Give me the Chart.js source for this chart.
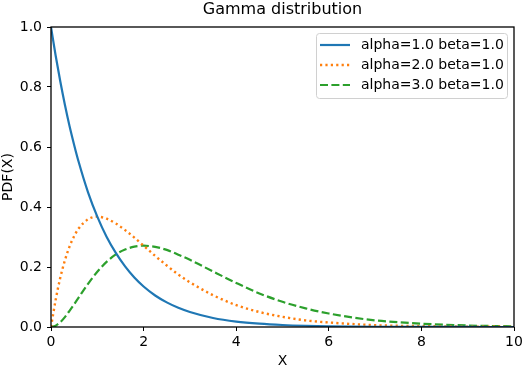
<!DOCTYPE html>
<html>
<head>
<meta charset="utf-8">
<script src="https://cdn.jsdelivr.net/npm/chart.js@4.4.0/dist/chart.umd.min.js"></script>
<style>
  html, body { margin: 0; padding: 0; background: #fff; }
  #wrap { width: 522px; height: 367px; }
</style>
</head>
<body>
<div id="wrap"><canvas id="gammaChart" width="522" height="367"></canvas></div>
<script>
// values
var xValues = [0, 0.1, 0.2, 0.3, 0.4, 0.5, 0.6, 0.8, 1.0, 1.2, 1.4, 1.6, 1.8, 2.0, 2.25, 2.5, 2.75, 3.0, 3.5, 4.0, 4.5, 5.0, 5.5, 6.0, 6.5, 7.0, 7.5, 8.0, 9.0, 10.0];
var alpha1Values = [1.0, 0.905, 0.819, 0.741, 0.670, 0.607, 0.549, 0.449, 0.368, 0.301, 0.247, 0.202, 0.165, 0.135, 0.105, 0.082, 0.064, 0.050, 0.030, 0.018, 0.011, 0.0067, 0.0041, 0.0025, 0.0015, 0.0009, 0.0006, 0.0003, 0.0001, 0.0000];
var alpha2Values = [0, 0.090, 0.164, 0.222, 0.268, 0.303, 0.329, 0.359, 0.368, 0.361, 0.345, 0.323, 0.298, 0.271, 0.237, 0.205, 0.175, 0.149, 0.106, 0.073, 0.050, 0.034, 0.022, 0.015, 0.010, 0.006, 0.004, 0.003, 0.001, 0.0005];
var alpha3Values = [0, 0.0045, 0.016, 0.033, 0.054, 0.076, 0.099, 0.144, 0.184, 0.217, 0.242, 0.258, 0.268, 0.271, 0.267, 0.257, 0.241, 0.224, 0.185, 0.147, 0.112, 0.084, 0.062, 0.045, 0.032, 0.022, 0.016, 0.011, 0.005, 0.0023];
var seriesLabels = ['alpha=1.0 beta=1.0', 'alpha=2.0 beta=1.0', 'alpha=3.0 beta=1.0'];
var xTicks = [0, 2, 4, 6, 8, 10];
var yTicks = [0.0, 0.2, 0.4, 0.6, 0.8, 1.0];

var FONT = "'DejaVu Sans', sans-serif";

function toPoints(ys) {
    return xValues.map(function(x, i) { return {x: x, y: ys[i]}; });
}

// frame round the plot, drawn above the lines like matplotlib spines
var framePlugin = {
    id: 'frame',
    afterDatasetsDraw: function(chart) {
        var a = chart.chartArea;
        var ctx = chart.ctx;
        ctx.save();
        ctx.strokeStyle = '#000';
        ctx.lineWidth = 1.3;
        ctx.strokeRect(a.left, a.top, a.right - a.left, a.bottom - a.top);
        ctx.restore();
    }
};

// legend in the upper right corner, inside the axes
var legendPlugin = {
    id: 'insideLegend',
    afterDraw: function(chart) {
        var ctx = chart.ctx;
        var a = chart.chartArea;
        var boxRight = a.right - 7, boxTop = a.top + 6;
        var boxW = 191, boxH = 65;
        var boxLeft = boxRight - boxW;
        ctx.save();
        ctx.fillStyle = 'rgba(255,255,255,0.8)';
        ctx.strokeStyle = '#d0d0d0';
        ctx.lineWidth = 1;
        ctx.beginPath();
        ctx.roundRect(boxLeft + 0.5, boxTop + 0.5, boxW, boxH, 3);
        ctx.fill();
        ctx.stroke();

        chart.data.datasets.forEach(function(ds, i) {
            var y = boxTop + 12 + i * 20;
            ctx.strokeStyle = ds.borderColor;
            ctx.lineWidth = ds.borderWidth;
            ctx.setLineDash(ds.borderDash || []);
            ctx.beginPath();
            ctx.moveTo(boxLeft + 4, y);
            ctx.lineTo(boxLeft + 34, y);
            ctx.stroke();
            ctx.setLineDash([]);
            ctx.fillStyle = '#000';
            ctx.font = '14px ' + FONT;
            ctx.textBaseline = 'middle';
            ctx.textAlign = 'left';
            ctx.fillText(ds.label, boxLeft + 45, y);
        });
        ctx.restore();
    }
};

var ctx = document.getElementById('gammaChart').getContext('2d');
var myChart = new Chart(ctx, {
    type: 'line',
    data: {
        datasets: [{
            label: seriesLabels[0],
            data: toPoints(alpha1Values),
            borderColor: '#1f77b4',
            borderWidth: 2.2,
            pointRadius: 0,
            cubicInterpolationMode: 'monotone'
        }, {
            label: seriesLabels[1],
            data: toPoints(alpha2Values),
            borderColor: '#ff7f0e',
            borderWidth: 2.4,
            borderDash: [2.2, 3.2],
            pointRadius: 0,
            cubicInterpolationMode: 'monotone'
        }, {
            label: seriesLabels[2],
            data: toPoints(alpha3Values),
            borderColor: '#2ca02c',
            borderWidth: 2.2,
            borderDash: [8, 3.4],
            pointRadius: 0,
            cubicInterpolationMode: 'monotone'
        }]
    },
    options: {
        responsive: false,
        animation: false,
        devicePixelRatio: 1,
        layout: { padding: { top: 27, right: 8, left: 0, bottom: 0 } },
        plugins: {
            legend: { display: false },
            tooltip: { enabled: false },
            title: { display: false }
        },
        scales: {
            x: {
                type: 'linear',
                min: 0,
                max: 10,
                afterFit: function(scale) {
                    scale.height = 40;
                    scale.paddingLeft = 0;
                    scale.paddingRight = 0;
                },
                afterBuildTicks: function(scale) {
                    scale.ticks = xTicks.map(function(v) { return {value: v}; });
                },
                border: { display: false },
                grid: { display: true, drawOnChartArea: false, drawTicks: true, tickLength: 4, color: '#000', lineWidth: 1 },
                ticks: {
                    color: '#000',
                    padding: 3,
                    maxRotation: 0,
                    font: { family: FONT, size: 14 },
                    callback: function(v) { return String(v); }
                },
                title: {
                    display: true,
                    text: 'X',
                    color: '#000',
                    font: { family: FONT, size: 14 },
                    padding: { top: 4, bottom: -3 }
                }
            },
            y: {
                min: 0,
                max: 1.0,
                afterFit: function(scale) {
                    scale.width = 51;
                    scale.paddingTop = 0;
                    scale.paddingBottom = 0;
                },
                afterBuildTicks: function(scale) {
                    scale.ticks = yTicks.map(function(v) { return {value: v}; });
                },
                border: { display: false },
                grid: { display: true, drawOnChartArea: false, drawTicks: true, tickLength: 4, color: '#000', lineWidth: 1 },
                ticks: {
                    color: '#000',
                    padding: 5,
                    font: { family: FONT, size: 14 },
                    callback: function(v) { return v.toFixed(1); }
                },
                title: {
                    display: true,
                    text: 'PDF(X)',
                    color: '#000',
                    font: { family: FONT, size: 14 },
                    padding: { top: 0, bottom: 2 }
                }
            }
        }
    },
    plugins: [framePlugin, legendPlugin, {
        id: 'topTitle',
        afterDraw: function(chart) {
            var c = chart.ctx;
            var a = chart.chartArea;
            c.save();
            c.fillStyle = '#000';
            c.font = '16px ' + FONT;
            c.textAlign = 'center';
            c.textBaseline = 'middle';
            c.fillText('Gamma distribution', (a.left + a.right) / 2, 10);
            c.restore();
        }
    }]
});
</script>
</body>
</html>
